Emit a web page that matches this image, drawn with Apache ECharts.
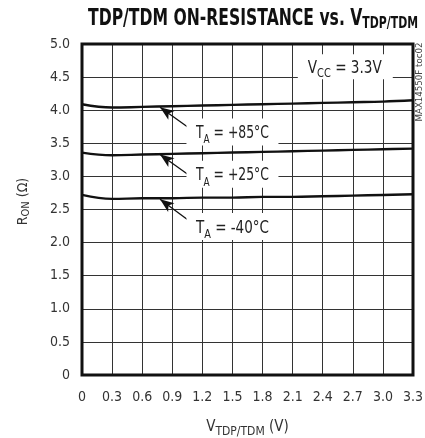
<!DOCTYPE html>
<html><head><meta charset="utf-8">
<script src="https://cdn.jsdelivr.net/npm/echarts@6/dist/echarts.min.js"></script>
<style>html,body{margin:0;padding:0;background:#fff}#c{width:425px;height:438px}</style>
</head><body><div id="c"></div>
<script>
// ---- data ----
var xValues = [0, 0.3, 0.6, 0.9, 1.2, 1.5, 1.8, 2.1, 2.4, 2.7, 3.0, 3.3];
var r85 = [4.09, 4.04, 4.05, 4.06, 4.07, 4.08, 4.09, 4.10, 4.11, 4.12, 4.13, 4.15];
var r25 = [3.36, 3.32, 3.33, 3.34, 3.35, 3.36, 3.37, 3.38, 3.39, 3.40, 3.41, 3.42];
var rm40 = [2.72, 2.66, 2.67, 2.67, 2.68, 2.68, 2.69, 2.69, 2.70, 2.71, 2.72, 2.73];
var xTickLabels = ['0','0.3','0.6','0.9','1.2','1.5','1.8','2.1','2.4','2.7','3.0','3.3'];
var yTickLabels = ['0','0.5','1.0','1.5','2.0','2.5','3.0','3.5','4.0','4.5','5.0'];
var seriesNames = ['+85°C', '+25°C', '-40°C'];

// ---- annotation layout (data coordinates) ----
var labelCenters = [[1.50, 3.68], [1.50, 3.04], [1.50, 2.25]];
var arrowFrom = [[1.057, 3.742], [1.057, 3.029], [1.057, 2.341]];
var arrowTo = [[0.778, 4.044], [0.778, 3.331], [0.778, 2.654]];
var vccCenter = [2.62, 4.65];

var FONT = "'DejaVu Sans Condensed', 'DejaVu Sans', sans-serif";
var mctx = document.createElement('canvas').getContext('2d');
function measure(t, size, bold){ mctx.font = (bold ? 'bold ' : 'normal ') + size + 'px ' + FONT; return mctx.measureText(t).width; }

function pairs(ys){ return xValues.map(function(x,i){ return [x, ys[i]]; }); }
function lineSeries(name, ys, i){
  return {name: name, type: 'line', data: pairs(ys), smooth: 0.4, symbol: 'none',
    lineStyle: {color: '#111', width: 2.4}, z: 3, silent: true,
    markLine: {silent: true, symbol: ['none', 'arrow'], symbolSize: [8, 14],
      lineStyle: {color: '#111', type: 'solid', width: 1.3}, label: {show: false},
      data: [[{coord: arrowFrom[i]}, {coord: arrowTo[i]}]]}};
}

// segments: [text, size, bold, sub(px down)]
function scaledText(segs, x, y, targetW, align, color, extra){
  var rich = {}, txt = '', nat = 0;
  segs.forEach(function(s, k){
    var key = 's' + k;
    rich[key] = {fontFamily: FONT, fontSize: s[1], fontWeight: s[2] ? 'bold' : 'normal', fill: color,
      verticalAlign: 'bottom', padding: [0, 0, -(s[3] || 0), 0]};
    txt += '{' + key + '|' + s[0] + '}';
    nat += measure(s[0], s[1], s[2]);
  });
  var el = {type: 'text', x: x, y: y, scaleX: targetW / nat, z: 20,
    style: {text: txt, rich: rich, align: align, verticalAlign: 'middle', fill: color}};
  if (extra) for (var k in extra) el[k] = extra[k];
  return el;
}

var chart = echarts.init(document.getElementById('c'), null, {renderer: 'canvas'});
chart.setOption({
  animation: false,
  backgroundColor: '#fff',
  grid: {left: 82, right: 12, top: 44, bottom: 63, containLabel: false, outerBoundsMode: 'none',
    show: true, borderColor: '#111', borderWidth: 3, z: 4},
  xAxis: {
    type: 'value', min: 0, max: 3.3, interval: 0.3,
    name: '{m|V}{s|TDP/TDM}{m| (V)}', nameLocation: 'middle', nameGap: 45,
    nameTextStyle: {rich: {m: {fontFamily: FONT, fontSize: 15, color: '#333'},
      s: {fontFamily: FONT, fontSize: 12, color: '#333', verticalAlign: 'bottom', padding: [0,0,-3,0]}}},
    axisLine: {show: false}, axisTick: {show: false},
    axisLabel: {fontFamily: FONT, fontSize: 14, color: '#333', margin: 15,
      formatter: function(v){ var i = Math.round(v / 0.3); return xTickLabels[i] !== undefined ? xTickLabels[i] : ''; }},
    splitLine: {show: true, lineStyle: {color: '#333', width: 1}}
  },
  yAxis: {
    type: 'value', min: 0, max: 5, interval: 0.5,
    name: '{m|R}{s|ON}{m| (Ω)}', nameLocation: 'middle', nameGap: 52,
    nameTextStyle: {padding: [0, 0, 0, 16], rich: {m: {fontFamily: FONT, fontSize: 14, color: '#333'},
      s: {fontFamily: FONT, fontSize: 11, color: '#333', verticalAlign: 'bottom', padding: [0,0,-2,0]}}},
    axisLine: {show: false}, axisTick: {show: false},
    axisLabel: {fontFamily: FONT, fontSize: 14, color: '#333', margin: 12,
      formatter: function(v){ var i = Math.round(v / 0.5); return yTickLabels[i] !== undefined ? yTickLabels[i] : ''; }},
    splitLine: {show: true, lineStyle: {color: '#333', width: 1}}
  },
  series: [lineSeries(seriesNames[0], r85, 0), lineSeries(seriesNames[1], r25, 1), lineSeries(seriesNames[2], rm40, 2)]
});

function px(c){ return chart.convertToPixel({gridIndex: 0}, c); }
var g = [];
// title
g.push(scaledText([['TDP/TDM ON-RESISTANCE ', 23, true], ['vs. ', 23, true], ['V', 23, true], ['TDP/TDM', 16, true, 1]],
  88, 19, 330, 'left', '#111'));
// side code
g.push(scaledText([['MAX14550F toc02', 8, false]], 420, 82, 79, 'center', '#444', {rotation: Math.PI / 2}));
// temperature labels
labelCenters.forEach(function(c, i){
  var p = px(c);
  g.push({type: 'rect', z: 19, shape: {x: p[0] - 46, y: p[1] - 13, width: 92, height: 27}, style: {fill: '#fff'}});
  g.push(scaledText([['T', 18], ['A', 13, false, 4], [' = ' + seriesNames[i], 18]], p[0], p[1] + 2, 73, 'center', '#222'));
});
var pv = px(vccCenter);
g.push({type: 'rect', z: 19, shape: {x: pv[0] - 47, y: pv[1] - 13, width: 95, height: 25}, style: {fill: '#fff'}});
g.push(scaledText([['V', 18], ['CC', 13, false, 3], [' = 3.3V', 18]], pv[0], pv[1] + 1, 74, 'center', '#222'));
chart.setOption({graphic: g});
</script></body></html>
